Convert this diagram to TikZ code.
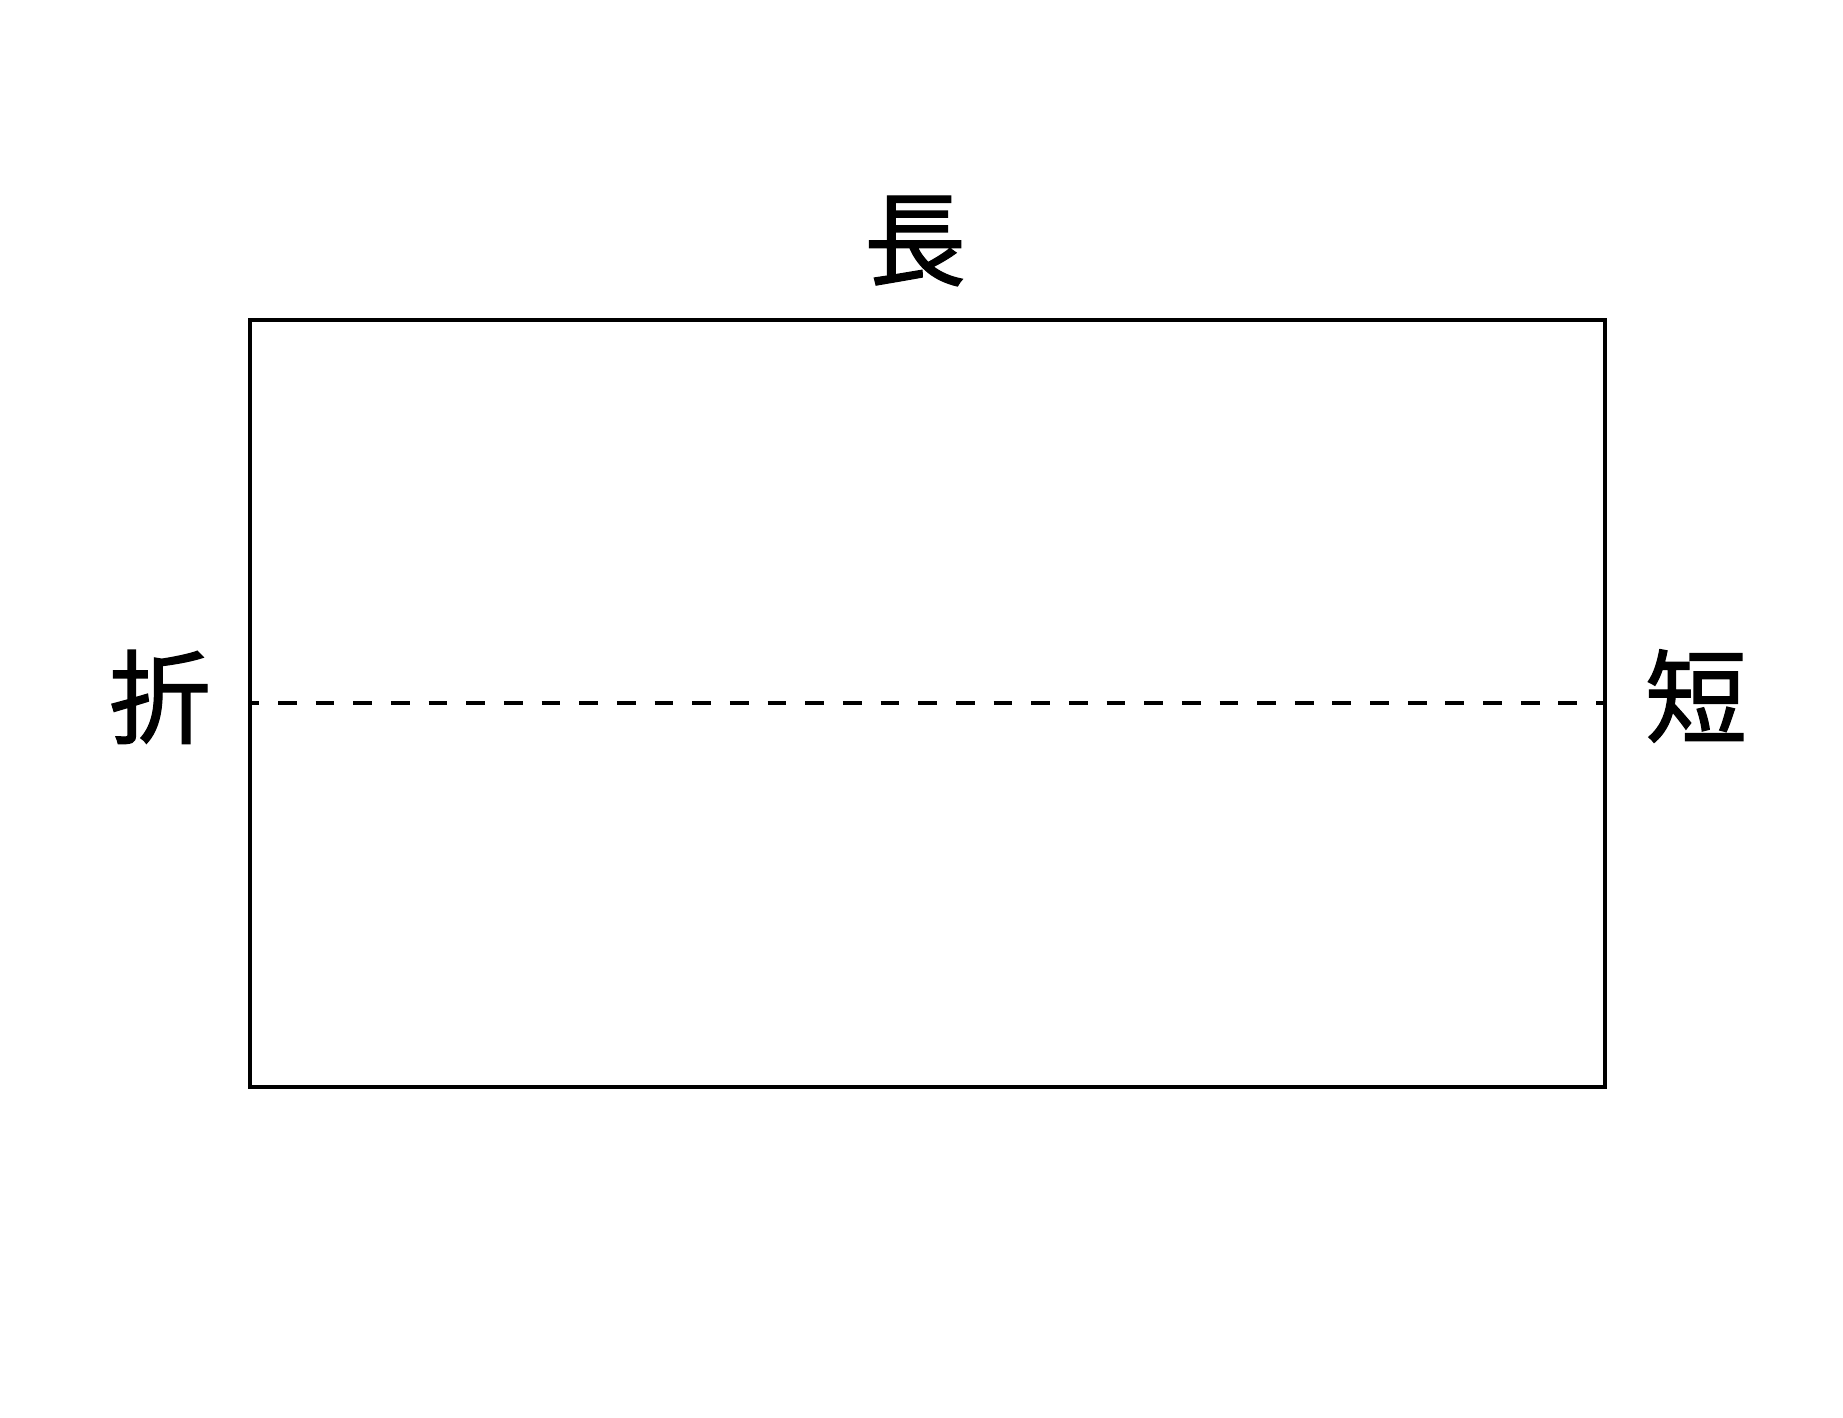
\documentclass[tikz,border=0pt]{standalone}
\usepackage{fontspec}
\newfontfamily\cjk[FakeBold=1.2]{Noto Sans CJK JP}
\begin{document}
\begin{tikzpicture}[x=0.5pt,y=-0.5pt,
  sheetline/.style={line width=2.25pt, line join=miter},
  foldline/.style={line width=2pt, dash pattern=on 9.415pt off 9.415pt, dash phase=4.83pt},
  label/.style={inner sep=0pt, font=\cjk\fontsize{51}{60}\selectfont}]
\useasboundingbox (0,0) rectangle (1843,1418);
\draw[sheetline] (250,320) rectangle (1605,1087);
\coordinate (fl) at (250,703);
\coordinate (fr) at (1605,703);
\draw[foldline] (fl) -- (fr);
\node[label] (long) at (915,241) {長};
\node[label] (fold) at (160,697) {折};
\node[label] (short) at (1696,696) {短};
\end{tikzpicture}
\end{document}
